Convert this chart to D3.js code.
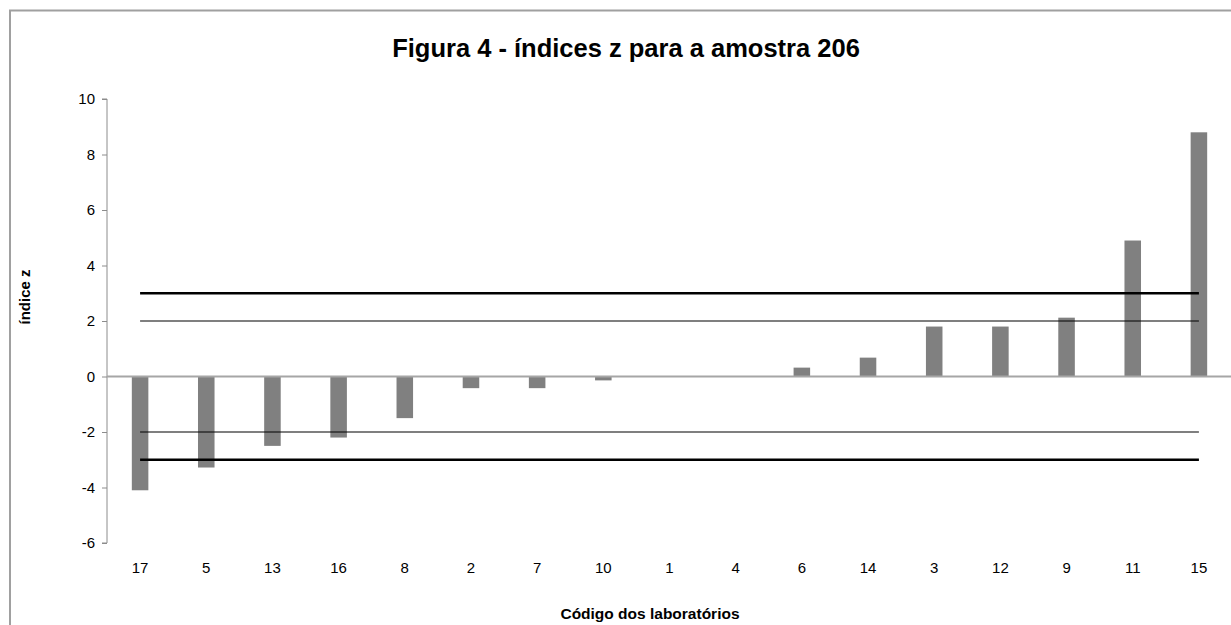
<!DOCTYPE html>
<html><head><meta charset="utf-8">
<script src="https://cdn.jsdelivr.net/npm/d3@7"></script>
<style>body{margin:0;background:#fff;}svg{display:block;font-family:"Liberation Sans",Arial,sans-serif;}</style>
</head><body>
<svg id="c" width="1231" height="625"></svg>
<script>
const labs = ["17","5","13","16","8","2","7","10","1","4","6","14","3","12","9","11","15"];
const zValues = [-4.1,-3.28,-2.5,-2.2,-1.5,-0.42,-0.42,-0.14,0,0,0.32,0.68,1.8,1.8,2.12,4.9,8.8];
const yTicks = [10,8,6,4,2,0,-2,-4,-6];
const limits = [{v:3,w:2.5},{v:2,w:1.2},{v:-2,w:1.2},{v:-3,w:2.5}];
const title = "Figura 4 - índices z para a amostra 206";
const xTitle = "Código dos laboratórios";
const yTitle = "índice z";

const svg = d3.select("#c");
const L = 107, R = 1232, T = 99, B = 543;
const x = d3.scaleBand().domain(labs).range([L, R]).paddingInner(0).paddingOuter(0);
const y = d3.scaleLinear().domain([-6, 10]).range([B, T]);

// outer border
svg.append("rect").attr("x",10).attr("y",10.5).attr("width",1240).attr("height",640)
  .attr("fill","none").attr("stroke","#a0a0a0").attr("stroke-width",2);

// title
svg.append("text").attr("x",626).attr("y",57).attr("text-anchor","middle")
  .attr("font-size",25.5).attr("font-weight","bold").text(title);

// bars
const bw = x.bandwidth()*0.25;
svg.append("g").selectAll("rect").data(labs).join("rect")
  .attr("x", (d)=> x(d)+x.bandwidth()/2-bw/2)
  .attr("width", bw)
  .attr("y", (d,i)=> y(Math.max(0,zValues[i])))
  .attr("height", (d,i)=> Math.abs(y(zValues[i])-y(0)))
  .attr("fill","#808080");

// y axis
const yAxis = d3.axisLeft(y).tickValues(yTicks).tickSize(5).tickPadding(7).tickFormat(d=>String(d));
const gy = svg.append("g").attr("transform",`translate(${L},0)`).call(yAxis);
gy.select(".domain").attr("stroke","#8c8c8c").attr("d",`M-5,${T}H0V${B}H-5`);
gy.selectAll(".tick line").attr("stroke","#8c8c8c");
gy.selectAll(".tick text").attr("font-size",15).attr("fill","#000").attr("font-family","Liberation Sans, Arial, sans-serif");

// zero line (category axis)
svg.append("line").attr("x1",L).attr("x2",R).attr("y1",y(0)).attr("y2",y(0))
  .attr("stroke","#a6a6a6").attr("stroke-width",2);

// limit lines
const x0 = x(labs[0])+x.bandwidth()/2, x1 = x(labs[labs.length-1])+x.bandwidth()/2;
svg.append("g").selectAll("line").data(limits).join("line")
  .attr("x1",x0).attr("x2",x1).attr("y1",d=>y(d.v)).attr("y2",d=>y(d.v))
  .attr("stroke","#000").attr("stroke-width",d=>d.w);

// x labels
const xAxis = d3.axisBottom(x).tickSize(0).tickPadding(0);
const gx = svg.append("g").attr("transform",`translate(0,${B+19})`).call(xAxis);
gx.select(".domain").remove();
gx.selectAll(".tick text").attr("font-size",15).attr("fill","#000").attr("dy","0.71em").attr("y",0)
  .attr("font-family","Liberation Sans, Arial, sans-serif");

// axis titles
svg.append("text").attr("x",650).attr("y",619).attr("text-anchor","middle")
  .attr("font-size",15.5).attr("font-weight","bold").text(xTitle);
svg.append("text").attr("transform","translate(30,297) rotate(-90)").attr("text-anchor","middle")
  .attr("font-size",15).attr("font-weight","bold").text(yTitle);
</script>
</body></html>
